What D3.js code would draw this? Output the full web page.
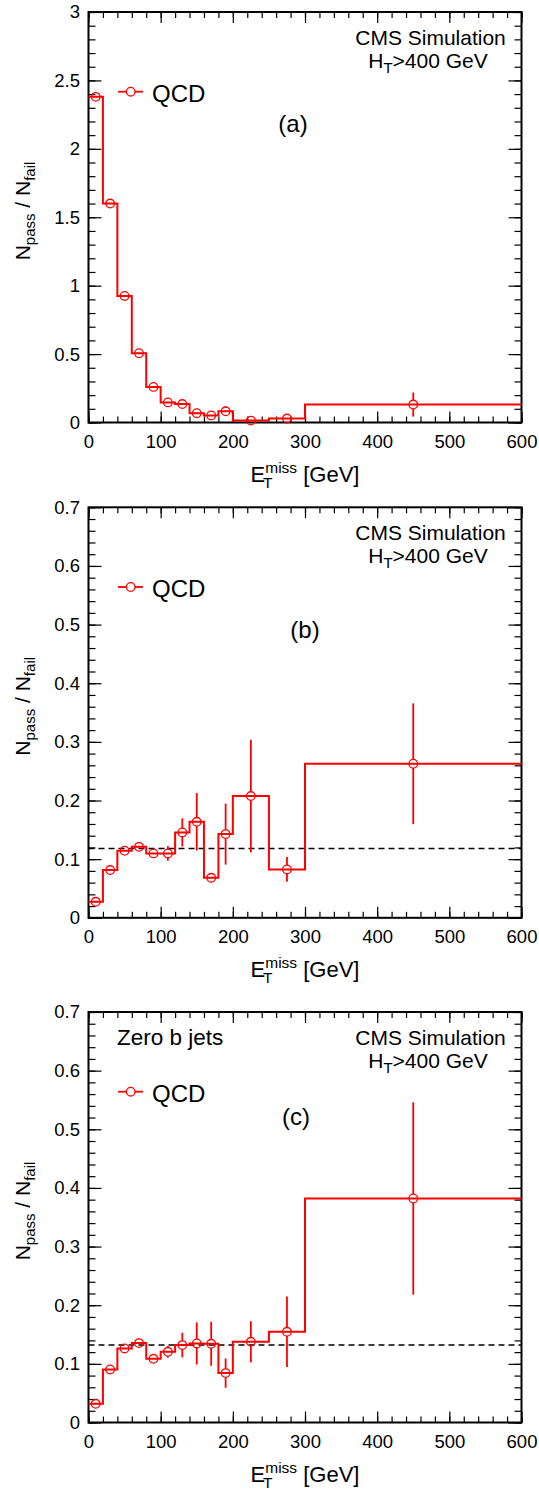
<!DOCTYPE html>
<html>
<head>
<meta charset="utf-8">
<script src="https://cdn.jsdelivr.net/npm/d3@7"></script>
<style>
  body { margin: 0; background: #fff; }
  svg { display: block; font-family: "Liberation Sans", Arial, Helvetica, sans-serif; }
</style>
</head>
<body>
<svg id="chart" width="539" height="1490"></svg>
<script>
// bin edges in MET [GeV]
var binEdges = [0, 20, 40, 60, 80, 100, 120, 140, 160, 180, 200, 250, 300, 600];

// panel (a): N_pass / N_fail and its errors
var ratioA = [2.38, 1.60, 0.925, 0.506, 0.26, 0.147, 0.135, 0.068, 0.052, 0.082, 0.014, 0.029, 0.131];
var errA   = [0.01, 0.01, 0.01, 0.008, 0.006, 0.006, 0.006, 0.006, 0.006, 0.035, 0.008, 0.008, 0.088];

// panel (b)
var ratioB = [0.0273, 0.0814, 0.1143, 0.121, 0.1098, 0.1098, 0.1456, 0.1637, 0.0682, 0.1427, 0.2076, 0.0825, 0.2627];
var errB   = [0.004, 0.005, 0.005, 0.006, 0.007, 0.0125, 0.024, 0.049, 0.008, 0.052, 0.096, 0.021, 0.103];
var fitB = 0.1183;

// panel (c), zero b jets
var ratioC = [0.0319, 0.0904, 0.1263, 0.1354, 0.1086, 0.1206, 0.132, 0.1348, 0.1342, 0.0842, 0.1376, 0.1547, 0.382];
var errC   = [0.004, 0.005, 0.006, 0.006, 0.007, 0.01, 0.021, 0.036, 0.0375, 0.025, 0.035, 0.06, 0.164];
var fitC = 0.132;

// tick labels
var xTickLabels = [0, 100, 200, 300, 400, 500, 600];
var yTicksA = [0, 0.5, 1, 1.5, 2, 2.5, 3];
var yTicksBC = [0, 0.1, 0.2, 0.3, 0.4, 0.5, 0.6, 0.7];

var panels = [
    {top: 12,    ymax: 3,   yTicks: yTicksA,  yMinor: 30, vals: ratioA, errs: errA, fit: null, tag: '(a)', tagX: 293, tagY: 120, zero: false},
    {top: 507.3, ymax: 0.7, yTicks: yTicksBC, yMinor: 35, vals: ratioB, errs: errB, fit: fitB, tag: '(b)', tagX: 305, tagY: 131, zero: false},
    {top: 1012,  ymax: 0.7, yTicks: yTicksBC, yMinor: 35, vals: ratioC, errs: errC, fit: fitC, tag: '(c)', tagX: 296, tagY: 113, zero: true}
];

var red = '#ff0000';
var left = 88.5, right = 521.5, plotH = 410.5;
var markerR = 4.3;

var svg = d3.select('#chart');

function drawPanel(p){
    var bottom = p.top + plotH;
    var x = d3.scaleLinear().domain([0, 600]).range([left, right]);
    var y = d3.scaleLinear().domain([0, p.ymax]).range([bottom, p.top]);
    var g = svg.append('g');

    // ticks on all four sides, pointing inward
    var minorX = x.ticks(30), minorY = y.ticks(p.yMinor);
    var axes = [
        {gen: d3.axisBottom(x).tickValues(xTickLabels).tickSize(-11).tickPadding(12.5).tickFormat(function(d){ return d; }), at: 'translate(0,' + bottom + ')', labels: true},
        {gen: d3.axisBottom(x).tickValues(minorX).tickSize(-6).tickFormat(''), at: 'translate(0,' + bottom + ')'},
        {gen: d3.axisTop(x).tickValues(xTickLabels).tickSize(-11).tickFormat(''), at: 'translate(0,' + p.top + ')'},
        {gen: d3.axisTop(x).tickValues(minorX).tickSize(-6).tickFormat(''), at: 'translate(0,' + p.top + ')'},
        {gen: d3.axisLeft(y).tickValues(p.yTicks).tickSize(-13).tickPadding(8.5).tickFormat(function(d){ return d; }), at: 'translate(' + left + ',0)', labels: true},
        {gen: d3.axisLeft(y).tickValues(minorY).tickSize(-7).tickFormat(''), at: 'translate(' + left + ',0)'},
        {gen: d3.axisRight(y).tickValues(p.yTicks).tickSize(-13).tickFormat(''), at: 'translate(' + right + ',0)'},
        {gen: d3.axisRight(y).tickValues(minorY).tickSize(-7).tickFormat(''), at: 'translate(' + right + ',0)'}
    ];
    axes.forEach(function(a){
        var ag = g.append('g').attr('transform', a.at).call(a.gen);
        ag.select('.domain').remove();
        ag.selectAll('line').attr('stroke', '#000').attr('stroke-width', 1.2);
        ag.selectAll('text').attr('fill', '#000').style('font-size', '18.5px')
            .style('font-family', '"Liberation Sans", Arial, sans-serif');
    });

    // frame
    g.append('rect')
        .attr('x', left).attr('y', p.top)
        .attr('width', right - left).attr('height', plotH)
        .attr('fill', 'none').attr('stroke', '#000').attr('stroke-width', 2);

    // fitted constant
    if(p.fit !== null){
        g.append('line')
            .attr('x1', x(0)).attr('x2', x(600))
            .attr('y1', y(p.fit)).attr('y2', y(p.fit))
            .attr('stroke', '#000').attr('stroke-width', 1.5)
            .attr('stroke-dasharray', '6,4');
    }

    // step histogram
    var pts = p.vals.map(function(v, i){ return [binEdges[i], v]; });
    pts.push([binEdges[binEdges.length - 1], p.vals[p.vals.length - 1]]);
    var line = d3.line()
        .x(function(d){ return x(d[0]); })
        .y(function(d){ return y(d[1]); })
        .curve(d3.curveStepAfter);
    g.append('path').datum(pts)
        .attr('d', line)
        .attr('fill', 'none').attr('stroke', red).attr('stroke-width', 2);

    // error bars (gap at the marker) and open circles
    var bins = p.vals.map(function(v, i){
        return {c: (binEdges[i] + binEdges[i + 1]) / 2, v: v, e: p.errs[i]};
    });
    bins.forEach(function(b){
        var cx = x(b.c), cy = y(b.v);
        var yHi = y(b.v + b.e), yLo = y(b.v - b.e);
        if(cy - markerR > yHi){
            g.append('line').attr('x1', cx).attr('x2', cx)
                .attr('y1', yHi).attr('y2', cy - markerR)
                .attr('stroke', red).attr('stroke-width', 1.8);
        }
        if(yLo > cy + markerR){
            g.append('line').attr('x1', cx).attr('x2', cx)
                .attr('y1', cy + markerR).attr('y2', yLo)
                .attr('stroke', red).attr('stroke-width', 1.8);
        }
    });
    g.selectAll('circle.pt').data(bins).enter().append('circle')
        .attr('class', 'pt')
        .attr('cx', function(d){ return x(d.c); })
        .attr('cy', function(d){ return y(d.v); })
        .attr('r', markerR)
        .attr('fill', 'none').attr('stroke', red).attr('stroke-width', 1.3);

    // legend
    var ly = p.top + 79.7;
    g.append('line').attr('x1', 118).attr('x2', 143).attr('y1', ly).attr('y2', ly)
        .attr('stroke', red).attr('stroke-width', 1.8);
    g.append('circle').attr('cx', 130.7).attr('cy', ly).attr('r', markerR)
        .attr('fill', '#fff').attr('stroke', red).attr('stroke-width', 1.3);
    g.append('text').attr('x', 152).attr('y', p.top + 89.5)
        .style('font-size', '24px').text('QCD');

    // CMS label
    g.append('text').attr('x', 430.5).attr('y', p.top + 33)
        .attr('text-anchor', 'middle').style('font-size', '21px').text('CMS Simulation');
    var ht = g.append('text').attr('x', 428).attr('y', p.top + 56)
        .attr('text-anchor', 'middle').style('font-size', '21px');
    ht.append('tspan').text('H');
    ht.append('tspan').attr('dy', 5).style('font-size', '15px').text('T');
    ht.append('tspan').attr('dy', -5).text('>400 GeV');

    if(p.zero){
        g.append('text').attr('x', 117).attr('y', p.top + 33)
            .style('font-size', '22.5px').text('Zero b jets');
    }

    // panel tag
    g.append('text').attr('x', p.tagX).attr('y', p.top + p.tagY)
        .attr('text-anchor', 'middle').style('font-size', '24px').text(p.tag);

    // x title
    var xt = g.append('text').attr('x', 305).attr('y', bottom + 59)
        .attr('text-anchor', 'middle').style('font-size', '22px');
    xt.append('tspan').text('E');
    xt.append('tspan').attr('dy', -9).style('font-size', '15.5px').text('miss');
    xt.append('tspan').attr('dy', 9).text(' [GeV]');
    // subscript T under the superscript
    g.append('text').attr('x', 305 - 42).attr('y', bottom + 65)
        .style('font-size', '15.5px').text('T');

    // y title
    var yt = g.append('text')
        .attr('transform', 'translate(30,' + (p.top + 199) + ') rotate(-90)')
        .attr('text-anchor', 'middle').style('font-size', '21px');
    yt.append('tspan').text('N');
    yt.append('tspan').attr('dy', 5).style('font-size', '15px').text('pass');
    yt.append('tspan').attr('dy', -5).text(' / N');
    yt.append('tspan').attr('dy', 5).style('font-size', '15px').text('fail');
}

panels.forEach(drawPanel);
</script>
</body>
</html>
